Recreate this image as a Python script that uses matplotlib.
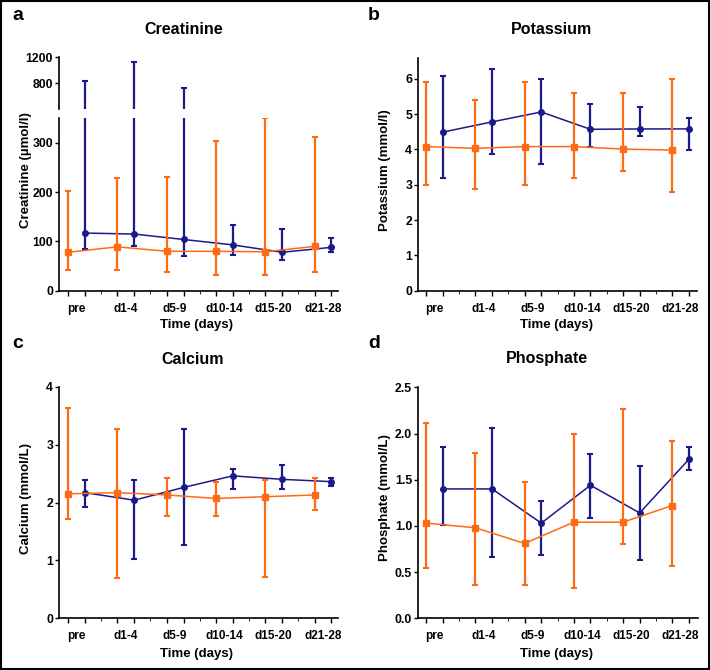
import matplotlib
matplotlib.use("Agg")
import matplotlib.pyplot as plt
from matplotlib.patches import Rectangle
import numpy as np

plt.rcParams['font.family'] = ['Liberation Sans', 'DejaVu Sans']
plt.rcParams['font.weight'] = 'bold'

categories = ["pre", "d1-4", "d5-9", "d10-14", "d15-20", "d21-28"]

# Creatinine (µmol/l)
crea_orange = [78, 89, 80, 80, 79, 90]
crea_orange_lo = [42, 43, 37, 31, 32, 38]
crea_orange_hi = [203, 229, 230, 303, 350, 313]
crea_blue = [117, 115, 104, 93, 78, 88]
crea_blue_lo = [84, 91, 70, 72, 63, 78]
crea_blue_hi = [840, 1120, 728, 133, 125, 108]

# Potassium (mmol/l)
pot_orange = [4.08, 4.03, 4.08, 4.08, 4.01, 3.98]
pot_orange_lo = [3.0, 2.89, 3.0, 3.19, 3.39, 2.79]
pot_orange_hi = [5.9, 5.4, 5.9, 5.6, 5.6, 6.0]
pot_blue = [4.49, 4.78, 5.06, 4.57, 4.58, 4.58]
pot_blue_lo = [3.19, 3.88, 3.59, 4.08, 4.39, 3.98]
pot_blue_hi = [6.08, 6.29, 5.99, 5.28, 5.19, 4.89]

# Calcium (mmol/L)
ca_orange = [2.15, 2.17, 2.13, 2.07, 2.10, 2.13]
ca_orange_lo = [1.72, 0.70, 1.77, 1.77, 0.71, 1.87]
ca_orange_hi = [3.64, 3.27, 2.42, 2.35, 2.39, 2.43]
ca_blue = [2.17, 2.04, 2.26, 2.46, 2.40, 2.36]
ca_blue_lo = [1.93, 1.02, 1.27, 2.24, 2.23, 2.28]
ca_blue_hi = [2.38, 2.39, 3.27, 2.58, 2.64, 2.43]

# Phosphate (mmol/L)
ph_orange = [1.03, 0.98, 0.81, 1.04, 1.04, 1.22]
ph_orange_lo = [0.54, 0.36, 0.36, 0.33, 0.80, 0.57]
ph_orange_hi = [2.11, 1.79, 1.48, 2.00, 2.27, 1.92]
ph_blue = [1.40, 1.40, 1.03, 1.44, 1.14, 1.72]
ph_blue_lo = [1.01, 0.66, 0.68, 1.09, 0.63, 1.60]
ph_blue_hi = [1.85, 2.06, 1.27, 1.78, 1.65, 1.85]

ORANGE = '#FF6A14'
BLUE = '#1A1A8A'
OFF = 0.17

W, H = 710, 670
fig = plt.figure(figsize=(W / 100, H / 100), dpi=100)


def px_axes(left, top, right, bottom):
    return fig.add_axes([left / W, 1 - bottom / H, (right - left) / W, (bottom - top) / H])


def draw_series(ax, mean, lo, hi, color, xoff, marker, z):
    x = np.arange(len(mean)) + xoff
    mean = np.asarray(mean, float)
    yerr = [mean - np.asarray(lo, float), np.asarray(hi, float) - mean]
    ax.errorbar(x, mean, yerr=yerr, fmt='none', ecolor=color, elinewidth=1.6,
                capsize=2.0, capthick=1.5, zorder=z)
    ax.plot(x, mean, color=color, lw=1.1, marker=marker, ms=4, zorder=z + 0.5)


def style_axes(ax, xlim, bottom=True):
    for s in ['top', 'right']:
        ax.spines[s].set_visible(False)
    ax.spines['left'].set_linewidth(1.2)
    ax.spines['bottom'].set_linewidth(1.2)
    ax.set_xlim(*xlim)
    ax.tick_params(axis='y', length=3, width=1.0, pad=1.5, labelsize=8.8)
    for lab in ax.get_yticklabels():
        lab.set_fontweight('bold')
    if bottom:
        n = len(categories)
        tickpos = []
        for i in range(n):
            tickpos += [i - OFF, i + OFF]
        ax.set_xticks(tickpos)
        ax.set_xticklabels([])
        ax.set_xticks([i + 0.5 for i in range(n - 1)], minor=True)
        ax.tick_params(axis='x', which='major', length=3.5, width=1.0)
        ax.tick_params(axis='x', which='minor', length=2, width=0.6)
        for i, c in enumerate(categories):
            ax.annotate(c, xy=(i, 0), xycoords=('data', 'axes fraction'),
                        xytext=(0, -8.5), textcoords='offset points',
                        ha='center', va='top', fontsize=8.5, fontweight='bold')
    else:
        ax.spines['bottom'].set_visible(False)
        ax.set_xticks([])


# Panel a: Creatinine (broken axis)
ax_a_lo = px_axes(59.3, 118.3, 338.3, 290.7)
ax_a_hi = px_axes(59.3, 57.3, 338.3, 109.3)
for ax in (ax_a_lo, ax_a_hi):
    draw_series(ax, crea_blue, crea_blue_lo, crea_blue_hi, BLUE, OFF, 'o', 2)
    draw_series(ax, crea_orange, crea_orange_lo, crea_orange_hi, ORANGE, -OFF, 's', 3)
ax_a_lo.set_ylim(0, 350)
ax_a_lo.set_yticks([0, 100, 200, 300])
ax_a_hi.set_ylim(400, 1200)
ax_a_hi.set_yticks([800, 1200])
style_axes(ax_a_lo, (-0.35, 5.31))
style_axes(ax_a_hi, (-0.35, 5.31), bottom=False)

# Panel b: Potassium
ax_b = px_axes(418.3, 58.3, 696.7, 290.7)
draw_series(ax_b, pot_blue, pot_blue_lo, pot_blue_hi, BLUE, OFF, 'o', 2)
draw_series(ax_b, pot_orange, pot_orange_lo, pot_orange_hi, ORANGE, -OFF, 's', 3)
ax_b.set_ylim(0, 6.58)
ax_b.set_yticks(range(0, 7))
style_axes(ax_b, (-0.33, 5.33))

# Panel c: Calcium
ax_c = px_axes(59.3, 386.7, 338.3, 618.3)
draw_series(ax_c, ca_blue, ca_blue_lo, ca_blue_hi, BLUE, OFF, 'o', 2)
draw_series(ax_c, ca_orange, ca_orange_lo, ca_orange_hi, ORANGE, -OFF, 's', 3)
ax_c.set_ylim(0, 4)
ax_c.set_yticks(range(0, 5))
style_axes(ax_c, (-0.35, 5.31))

# Panel d: Phosphate
ax_d = px_axes(418.3, 387.3, 697.7, 618.3)
draw_series(ax_d, ph_blue, ph_blue_lo, ph_blue_hi, BLUE, OFF, 'o', 2)
draw_series(ax_d, ph_orange, ph_orange_lo, ph_orange_hi, ORANGE, -OFF, 's', 3)
ax_d.set_ylim(0, 2.5)
ax_d.set_yticks([0, 0.5, 1.0, 1.5, 2.0, 2.5])
ax_d.set_yticklabels(['0.0', '0.5', '1.0', '1.5', '2.0', '2.5'])
style_axes(ax_d, (-0.33, 5.35))


def ftext(xp, yp, s, **kw):
    fig.text(xp / W, 1 - yp / H, s, fontweight='bold', **kw)


# Titles
ftext(184, 30, "Creatinine", ha='center', va='center', fontsize=11.5)
ftext(552, 30, "Potassium", ha='center', va='center', fontsize=11.5)
ftext(193, 359, "Calcium", ha='center', va='center', fontsize=11.5)
ftext(547, 359, "Phosphate", ha='center', va='center', fontsize=11.5)

# Panel letters
ftext(12, 15, "a", ha='left', va='center', fontsize=14)
ftext(368, 15, "b", ha='left', va='center', fontsize=14)
ftext(12, 344, "c", ha='left', va='center', fontsize=14)
ftext(368, 344, "d", ha='left', va='center', fontsize=14)

# Y labels
ftext(25.7, 170, "Creatinine (µmol/l)", ha='center', va='center', rotation=90, fontsize=9.5)
ftext(385, 170, "Potassium (mmol/l)", ha='center', va='center', rotation=90, fontsize=9.5)
ftext(25.7, 498, "Calcium (mmol/L)", ha='center', va='center', rotation=90, fontsize=9.5)
ftext(385, 498, "Phosphate (mmol/L)", ha='center', va='center', rotation=90, fontsize=9.5)

# X labels
ftext(196, 325, "Time (days)", ha='center', va='center', fontsize=9.5)
ftext(557, 325, "Time (days)", ha='center', va='center', fontsize=9.5)
ftext(196, 654, "Time (days)", ha='center', va='center', fontsize=9.5)
ftext(557, 654, "Time (days)", ha='center', va='center', fontsize=9.5)

# Figure border
fig.patches.append(Rectangle((0.001, 0.001), 0.997, 0.997, transform=fig.transFigure,
                             fill=False, edgecolor='black', linewidth=1.5))

fig.savefig("out.png", dpi=100)
